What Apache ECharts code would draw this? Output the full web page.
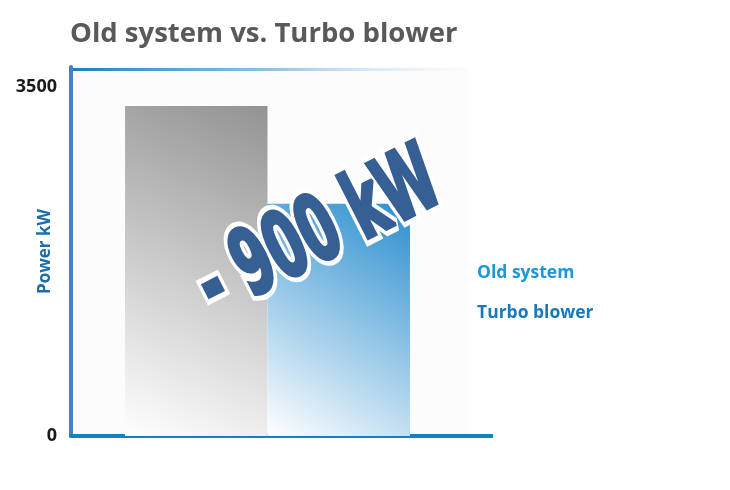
<!DOCTYPE html>
<html>
<head>
<meta charset="utf-8">
<script src="https://cdn.jsdelivr.net/npm/echarts@6/dist/echarts.min.js"></script>
<style>html,body{margin:0;padding:0;background:#fff;}#c{width:730px;height:490px;}</style>
</head>
<body>
<div id="c"></div>
<script>
var categories = ['Power'];
var seriesNames = ['Old system', 'Turbo blower'];
var oldSystem = [3310];
var turboBlower = [2330];
var yTicks = [0, 3500];
var annotation = '- 900 kW';

var chart = echarts.init(document.getElementById('c'), null, {renderer: 'canvas'});
var F = '"Open Sans", "Noto Sans", sans-serif';
var textStyleBase = {text: annotation, x: 0, y: 0, align: 'center', verticalAlign: 'middle',
  font: 'bold 58px "DejaVu Sans Condensed", "DejaVu Sans", sans-serif'};
var option = {
  backgroundColor: '#fff',
  animation: false,
  title: {
    text: 'Old system vs. Turbo blower',
    left: 65, top: 15,
    textStyle: {fontFamily: F, fontSize: 27.5, fontWeight: 'bold', color: '#595959'}
  },
  legend: {
    orient: 'vertical', left: 467, top: 259, itemGap: 22,
    icon: 'none', itemWidth: 0, itemHeight: 14,
    data: [
      {name: seriesNames[0], textStyle: {color: '#1b97dd'}},
      {name: seriesNames[1], textStyle: {color: '#1779bc'}}
    ],
    textStyle: {fontFamily: F, fontSize: 17.5, fontWeight: 'bold'},
    selectedMode: false
  },
  grid: {left: 71, right: 266, top: 67, bottom: 54, containLabel: false, outerBoundsMode: 'none',
         show: true, backgroundColor: '#fcfcfc', borderWidth: 0},
  xAxis: {
    type: 'category', data: categories,
    axisLine: {show: true, lineStyle: {color: '#1182c5', width: 4}},
    axisTick: {show: false}, axisLabel: {show: false}, splitLine: {show: false}
  },
  yAxis: {
    type: 'value', min: yTicks[0], max: 3700, interval: yTicks[1],
    name: 'Power kW', nameLocation: 'middle', nameGap: 17, nameRotate: 90, nameMoveOverlap: false,
    nameTextStyle: {fontFamily: F, fontSize: 17, fontWeight: 'bold', color: '#1c6ea9'},
    axisLine: {show: true, lineStyle: {color: '#4a7fc0', width: 4}},
    axisTick: {show: false}, splitLine: {show: false},
    axisLabel: {showMaxLabel: false, margin: 14, fontFamily: F, fontSize: 18, fontWeight: 'bold', color: '#1a1a1a',
      formatter: function (v) { return String(v); }}
  },
  series: [
    {
      name: seriesNames[0], type: 'bar', data: oldSystem, barGap: '0%', barCategoryGap: '27.5%',
      itemStyle: {color: new echarts.graphic.LinearGradient(0, 1, 1, 0, [
        {offset: 0, color: '#ffffff'}, {offset: 1, color: '#939393'}])}
    },
    {
      name: seriesNames[1], type: 'bar', data: turboBlower,
      itemStyle: {color: new echarts.graphic.LinearGradient(0, 1, 1, 0, [
        {offset: 0, color: '#ffffff'}, {offset: 1, color: '#2a8ecf'}])}
    }
  ],
  graphic: [
    {type: 'rect', shape: {x: 73, y: 68, width: 400, height: 3}, z: 5,
     style: {fill: new echarts.graphic.LinearGradient(0, 0, 1, 0, [
       {offset: 0, color: '#1a7fc4'}, {offset: 0.5, color: 'rgba(100,170,220,0.7)'}, {offset: 1, color: 'rgba(200,225,245,0)'}])}},
    {type: 'rect', shape: {x: 464, y: 67, width: 4, height: 369}, z: 0,
     style: {fill: '#fcfcfc'}},
    {type: 'line', shape: {x1: 462, y1: 436, x2: 493, y2: 436}, z: 5,
     style: {stroke: '#1182c5', lineWidth: 4}},
    {type: 'text', x: 320, y: 236, rotation: 0.47, scaleY: 1.58, z: 20,
     style: Object.assign({}, textStyleBase, {fill: '#ffffff', stroke: '#ffffff', lineWidth: 9,
       shadowBlur: 5, shadowColor: 'rgba(0,0,0,0.45)', shadowOffsetX: 2, shadowOffsetY: 3})},
    {type: 'text', x: 320, y: 236, rotation: 0.47, scaleY: 1.58, z: 21,
     style: Object.assign({}, textStyleBase, {fill: '#365f94', stroke: '#365f94', lineWidth: 2.5})}
  ]
};
chart.setOption(option);
</script>
</body>
</html>
